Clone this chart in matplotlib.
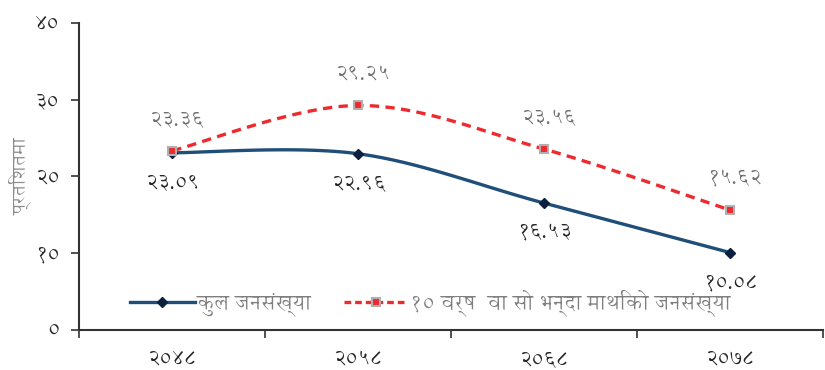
import numpy as np
import matplotlib
matplotlib.use("Agg")
from matplotlib import pyplot as plt

# data
years = ["२०४८", "२०५८", "२०६८", "२०७८"]
total_pop = [23.09, 22.96, 16.53, 10.08]
total_lbl = ["२३.०९", "२२.९६", "१६.५३", "१०.०८"]
pop_10 = [23.36, 29.25, 23.56, 15.62]
pop_10_lbl = ["२३.३६", "२९.२५", "२३.५६", "१५.६२"]
yticks = [0, 10, 20, 30, 40]
ytick_lbl = ["०", "१०", "२०", "३०", "४०"]
name_total = "कुल जनसंख्या"
name_10 = "१० वर्ष  वा सो भन्दा माथिको जनसंख्या"
ylabel = "प्रतिशतमा"

plt.rcParams["font.family"] = ["Annapurna SIL", "Noto Sans Devanagari", "DejaVu Sans"]


def smooth(xs, ys, n=40):
    # excel like smoothed line (bezier, 1/6 of neighbour diff)
    xs = np.asarray(xs, float)
    ys = np.asarray(ys, float)
    ox, oy = [], []
    for i in range(len(xs) - 1):
        i0 = max(i - 1, 0)
        i3 = min(i + 2, len(xs) - 1)
        p0 = np.array([xs[i], ys[i]])
        p3 = np.array([xs[i + 1], ys[i + 1]])
        c1 = p0 + (p3 - np.array([xs[i0], ys[i0]])) / 6
        c2 = p3 - (np.array([xs[i3], ys[i3]]) - p0) / 6
        t = np.linspace(0, 1, n)[:, None]
        b = (1 - t) ** 3 * p0 + 3 * (1 - t) ** 2 * t * c1 + 3 * (1 - t) * t ** 2 * c2 + t ** 3 * p3
        ox.extend(b[:, 0])
        oy.extend(b[:, 1])
    return ox, oy


x = np.arange(len(years))
blue = "#1f4e79"
red = "#ee2a2f"

fig = plt.figure(figsize=(8.25, 3.7), dpi=100)
ax = fig.add_axes([0.096, 0.108, 0.902, 0.83])

sx, sy = smooth(x, total_pop)
ax.plot(sx, sy, color=blue, lw=2.4, solid_capstyle="butt")
ax.plot(x, total_pop, ls="none", marker="D", ms=5, color="#0b1f3f")

sx, sy = smooth(x, pop_10)
ax.plot(sx, sy, color=red, lw=2.4, dashes=(2.8, 1.9))
ax.plot(x, pop_10, ls="none", marker="s", ms=6, mfc=red, mec="#b0b0b0", mew=1.5)

# legend handles
h1, = ax.plot([], [], color=blue, lw=2.4, marker="D", ms=5, mfc="#0b1f3f", mec="#0b1f3f")
h2, = ax.plot([], [], color=red, lw=2.4, dashes=(2, 1.2), marker="s", ms=6, mfc=red, mec="#b0b0b0", mew=1.5)
leg = ax.legend([h1, h2], [name_total, name_10], ncol=2, frameon=False, loc="center left",
                bbox_to_anchor=(0.043, 0.088), fontsize=15, handlelength=3.1,
                columnspacing=1.55, handletextpad=0.1, numpoints=1)
for t in leg.get_texts():
    t.set_color("#7f7f7f")

for xi, v, s in zip(x, total_pop, total_lbl):
    ax.annotate(s, (xi, v), xytext=(0, -22), textcoords="offset points",
                ha="center", va="center", fontsize=15, color="#262626")
for xi, v, s in zip(x, pop_10, pop_10_lbl):
    ax.annotate(s, (xi, v), xytext=(3, 22), textcoords="offset points",
                ha="center", va="center", fontsize=15, color="#707070")

ax.set_xlim(-0.5, 3.5)
ax.set_ylim(0, 40)
ax.set_yticks(yticks)
ax.set_yticklabels(ytick_lbl, fontsize=15, color="#262626")
ax.set_xticks(np.arange(-0.5, 3.6, 1), minor=False)
ax.set_xticklabels([])
ax.set_xticks(x, minor=True)
ax.set_xticklabels(years, minor=True, fontsize=15, color="#262626")
ax.tick_params(axis="x", which="minor", length=0, pad=15)
ax.tick_params(axis="x", which="major", length=6, width=1.2, color="#333333")
ax.tick_params(axis="y", length=6, width=1.2, color="#333333", pad=8)
ax.set_ylabel(ylabel, fontsize=14, color="#8c8c8c", labelpad=2)

for k in ["top", "right"]:
    ax.spines[k].set_visible(False)
for k in ["left", "bottom"]:
    ax.spines[k].set_linewidth(1.5)
    ax.spines[k].set_color("#333333")

fig.savefig("out.png", dpi=100)
